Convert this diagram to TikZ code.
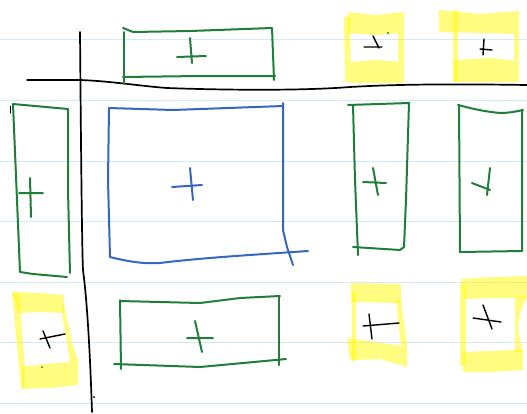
\documentclass[tikz,border=0pt]{standalone}
\usepackage{xcolor}
\usepackage{tikz}
\definecolor{rulecolor}{HTML}{D2EAF7}
\definecolor{pengreen}{HTML}{1F7E38}
\definecolor{penblue}{HTML}{3466C2}
\definecolor{penyellow}{HTML}{FFFA00}

\tikzset{
  rule/.style={draw=rulecolor, line width=1pt},
  ink/.style={draw=black, line width=1.7pt, line cap=round, line join=round},
  greenpen/.style={draw=pengreen, line width=2pt, line cap=round, line join=round},
  bluepen/.style={draw=penblue, line width=2pt, line cap=round, line join=round},
  marker/.style={fill=penyellow, fill opacity=0.5, draw=none},
}

\begin{document}
\begin{tikzpicture}[x=1pt, y=-1pt]
    \useasboundingbox (0,0) rectangle (527,413);
    % ruled paper
    \foreach \y in {39,100,161,221,282,342,403}
      \draw[rule] (0,\y) -- (527,\y);

    % highlighter, top right
    \fill[marker] (348,12) -- (375,15) -- (404,12) -- (404,33) -- (375,35) -- (348,33) -- cycle;
    \fill[marker] (351,62) -- (375,60) -- (404,62) -- (404,83) -- (351,83) -- cycle;
    \fill[marker] (344,17) -- (350,17) -- (351,82) -- (345,82) -- cycle;
    \fill[marker] (398,33) -- (404,33) -- (404,62) -- (398,62) -- cycle;

    \fill[marker] (439,10) -- (480,14) -- (519,11) -- (519,34) -- (480,33) -- (439,32) -- cycle;
    \fill[marker] (454,60) -- (490,58) -- (519,61) -- (519,82) -- (454,82) -- cycle;
    \fill[marker] (453,10) -- (458,10) -- (458,82) -- (453,82) -- cycle;
    \fill[marker] (514,34) -- (519,34) -- (519,60) -- (514,60) -- cycle;

    % highlighter, bottom row
    \fill[marker] (12,292) -- (40,293) -- (64,295) -- (64,313) -- (40,312) -- (19,313) -- cycle;
    \fill[marker] (12,293) -- (19,293) -- (25,368) -- (24,388) -- (21,388) -- cycle;
    \fill[marker] (22,367) -- (45,364) -- (70,362) -- (78,360) -- (78,385) -- (50,388) -- (22,389) -- cycle;
    \fill[marker] (62,305) -- (64,305) -- (72,342) -- (78,360) -- (70,362) -- (62,313) -- cycle;

    \fill[marker] (351,283) -- (401,284) -- (401,303) -- (351,302) -- cycle;
    \fill[marker] (352,292) -- (356,292) -- (356,361) -- (352,361) -- cycle;
    \fill[marker] (347,338) -- (402,346) -- (407,346) -- (407,367) -- (380,359) -- (350,360) -- cycle;
    \fill[marker] (396,300) -- (401,300) -- (407,346) -- (401,346) -- cycle;

    \fill[marker] (460,279) -- (495,277) -- (527,276) -- (527,298) -- (495,298) -- (465,299) -- cycle;
    \fill[marker] (460,285) -- (466,285) -- (466,365) -- (460,365) -- cycle;
    \fill[marker] (463,352) -- (515,350) -- (523,350) -- (523,370) -- (490,372) -- (463,372) -- cycle;
    \fill[marker] (515,297) -- (527,297) -- (521,310) -- (518,327) -- (520,340) -- (523,352) -- (515,352) -- cycle;

    % axes
    \draw[ink] (80,32) .. controls (81,150) and (82,250) .. (83,270) .. controls (87,300) and (90,350) .. (92,412);
    \draw[ink] (27,80) -- (80,80) .. controls (110,81) and (140,86) .. (167,88) .. controls (220,90) and (300,91) .. (350,87) .. controls (400,84) and (460,84) .. (527,85);
    \fill (94,397) circle (1pt);
    \draw[ink, line width=1pt] (10,106) -- (10,113);

    % top box
    \draw[greenpen] (124,32) -- (124,84);
    \draw[greenpen] (123,28) -- (133,32) -- (190,31) -- (272,28) -- (274,80);
    \draw[greenpen] (123,77) -- (200,76) -- (275,76);
    \draw[greenpen] (177,57) -- (206,56) (190,38) -- (192,63);

    % left box
    \draw[greenpen] (13,104) -- (68,109) -- (68,190) -- (70,273);
    \draw[greenpen] (13,104) -- (20,272) -- (33,274) -- (67,277);
    \draw[greenpen] (19,193) -- (43,193) (30,178) -- (31,217);

    % centre box
    \draw[bluepen] (109,108) -- (173,110) -- (283,106);
    \draw[bluepen] (109,108) -- (108,180) -- (110,257);
    \draw[bluepen] (283,103) -- (283,230) -- (287,247) -- (293,265);
    \draw[bluepen] (110,257) .. controls (130,262) and (145,264) .. (160,263) .. controls (200,258) and (250,255) .. (308,251);
    \draw[bluepen] (172,187) -- (202,185) (190,168) -- (193,200);

    % right boxes
    \draw[greenpen] (348,105) -- (409,103) -- (406,200) -- (404,247) -- (400,250) -- (353,247);
    \draw[greenpen] (353,105) -- (355,180) -- (358,255);
    \draw[greenpen] (363,182) -- (386,183) (373,168) -- (378,195);

    \draw[greenpen] (458,105) .. controls (470,108) and (480,111) .. (500,113) .. controls (510,113) and (518,111) .. (523,110);
    \draw[greenpen] (459,105) -- (460,252) -- (522,251) -- (522,110);
    \draw[greenpen] (472,183) -- (490,190) (490,168) -- (487,195);

    % bottom box
    \draw[greenpen] (120,301) -- (200,303) -- (240,298) -- (280,296);
    \draw[greenpen] (120,300) -- (121,369);
    \draw[greenpen] (114,364) -- (200,367) -- (286,359);
    \draw[greenpen] (279,296) -- (279,365);
    \draw[greenpen] (187,338) -- (213,338) (195,321) -- (202,352);

    % crosses in the highlighted boxes
    \draw[ink, line width=1.4pt] (364,47) -- (382,47) (373,36) -- (379,48);
    \draw[ink, line width=1.4pt] (480,49) -- (492,50) (484,39) -- (483,55);
    \draw[ink, line width=1.4pt] (40,339) -- (65,334) (43,331) -- (50,348);
    \draw[ink, line width=1.4pt] (363,326) -- (399,323) (369,314) -- (372,339);
    \draw[ink, line width=1.4pt] (473,318) -- (501,322) (483,305) -- (492,329);
    \fill[pengreen] (388,33) circle (1.2pt);
    \fill[pengreen] (42,367) circle (1pt);
  \end{tikzpicture}
\end{document}
